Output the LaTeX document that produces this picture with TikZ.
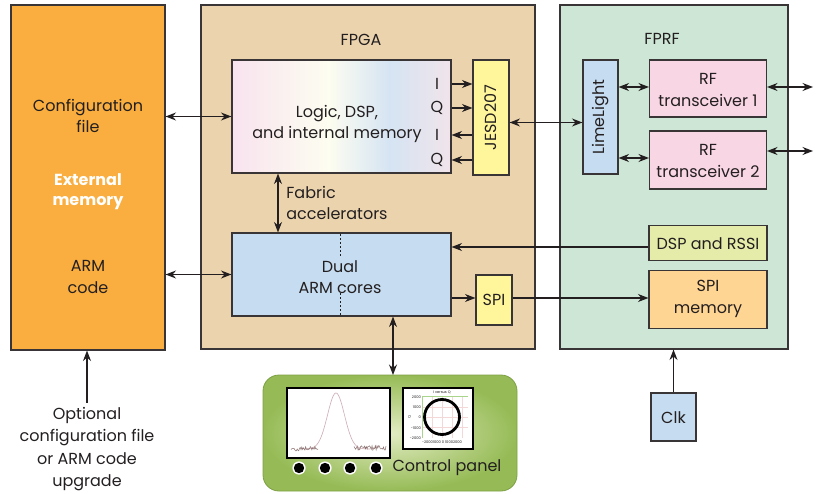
\documentclass[tikz,border=0pt]{standalone}
\usepackage{fontspec}
\setmainfont{Poppins}
\usetikzlibrary{arrows.meta,calc}

\definecolor{ink}{HTML}{231F20}
\definecolor{extorange}{HTML}{F9AE3F}
\definecolor{fpgatan}{HTML}{EBD3AD}
\definecolor{fprfgreen}{HTML}{CDE6D5}
\definecolor{jesdyellow}{HTML}{FFF59B}
\definecolor{armblue}{HTML}{C6DCF0}
\definecolor{rfpink}{HTML}{F9D6E4}
\definecolor{dspgreen}{HTML}{E5ECA9}
\definecolor{memorange}{HTML}{FFD593}
\definecolor{lpink}{HTML}{F8E3EF}
\definecolor{lcream}{HTML}{FDFDF0}
\definecolor{lblue}{HTML}{D5E4F3}
\definecolor{lrose}{HTML}{F1E4EA}
\definecolor{panelin}{HTML}{E2ECC3}
\definecolor{panelout}{HTML}{96BB56}
\definecolor{paneledge}{HTML}{7DA044}
\definecolor{gridpink}{HTML}{F4D8D8}
\definecolor{axisgreen}{HTML}{A8D58A}
\definecolor{traceline}{HTML}{8A6E6E}

% left-to-right tint of the logic block
\pgfdeclarehorizontalshading{logicshade}{100bp}{%
  color(0bp)=(lpink); color(25bp)=(lpink); color(47bp)=(lcream);
  color(61bp)=(lblue); color(75bp)=(lrose); color(100bp)=(lrose)}

\tikzset{
  blk/.style={draw=ink!90, line width=1.1pt, inner sep=0pt},
  txt/.style={text=ink, font=\fontsize{16}{21.5}\selectfont, align=center, inner sep=1pt},
  small/.style={text=ink, font=\fontsize{16}{21.5}\selectfont, inner sep=0pt},
  tiny/.style={text=ink, font=\fontsize{3.6}{4}\selectfont, inner sep=0pt},
  tip/.tip={Stealth[length=10.5pt,width=8pt,inset=3.5pt]},
  arr/.style={draw=ink, line width=1.2pt, -tip},
  dbl/.style={draw=ink, line width=1.2pt, tip-tip},
  screen/.style={draw=black, line width=1.1pt, fill=white, inner sep=0pt},
}

\begin{document}
\begin{tikzpicture}[x=1pt,y=-1pt]
\useasboundingbox (0,0) rectangle (821,494);

% ---- outer blocks ----
\node[blk, fill=extorange, minimum width=154pt, minimum height=345pt] (ext) at (88,177.5) {};
\node[blk, fill=fpgatan, minimum width=334pt, minimum height=344pt] (fpga) at (368,177) {};
\node[blk, fill=fprfgreen, minimum width=228pt, minimum height=344pt] (fprf) at (674,177) {};

\node[txt] (cfg) at (88,116) {Configuration\\file};
\node[txt, text=white, font=\fontsize{16}{20}\selectfont\bfseries] (extlbl) at (88,192) {External\\memory};
\node[txt] (armcode) at (88,277) {ARM\\code};

\node[small] (fpgalbl) at (361,40) {FPGA};
\node[small] (fprflbl) at (662,39) {FPRF};

% ---- FPGA internals ----
\shade[shading=logicshade] (232,60) rectangle (451,173);
\node[blk, minimum width=219pt, minimum height=113pt] (logic) at (341.5,116.5) {};
\node[txt] (logiclbl) at (337,124) {Logic, DSP,\\and internal memory};

\node[small] (lI1) at (437,84) {I};
\node[small] (lQ1) at (437,108) {Q};
\node[small] (lI2) at (437,135) {I};
\node[small] (lQ2) at (437,160) {Q};

\node[blk, fill=jesdyellow, minimum width=36pt, minimum height=115pt] (jesd) at (491,117.5) {};
\node[small, rotate=90] (jesdlbl) at (491,117.5) {JESD207};

\node[blk, fill=armblue, minimum width=219pt, minimum height=83pt] (arm) at (341.5,274.5) {};
\draw[ink, line width=1pt, dash pattern=on 2pt off 2pt] (340,234) -- (340,256);
\draw[ink, line width=1pt, dash pattern=on 2pt off 2pt] (340,293) -- (340,316);
\node[txt] (armlbl) at (340,277) {Dual\\ARM cores};

\node[txt, align=left] (fablbl) at (337,203) {Fabric\\accelerators};

\node[blk, fill=jesdyellow, minimum width=36pt, minimum height=50pt, text=ink, font=\fontsize{16}{20}\selectfont] (spi) at (494,300) {SPI};

% ---- FPRF internals ----
\node[blk, fill=armblue, minimum width=35pt, minimum height=114pt] (lime) at (600.5,117) {};
\node[small, rotate=90] (limelbl) at (600.5,117) {LimeLight};

\node[blk, fill=rfpink, minimum width=117pt, minimum height=57pt] (rf1) at (708,88.5) {};
\node[txt] (rf1lbl) at (708,90) {RF\\transceiver 1};
\node[blk, fill=rfpink, minimum width=117pt, minimum height=58pt] (rf2) at (708,160) {};
\node[txt] (rf2lbl) at (708,161) {RF\\transceiver 2};

\node[blk, fill=dspgreen, minimum width=118pt, minimum height=35pt] (dsp) at (708,243) {};
\node[small] (dsplbl) at (708,244) {DSP and RSSI};
\node[blk, fill=memorange, minimum width=118pt, minimum height=58pt] (spimem) at (708,299.5) {};
\node[txt] (spimemlbl) at (708,299) {SPI\\memory};

\node[blk, fill=armblue, minimum width=45pt, minimum height=48pt] (clk) at (673.5,417) {};
\node[small] (clklbl) at (673.5,418) {Clk};

% ---- control panel ----
\shade[inner color=panelin, outer color=panelout, rounded corners=16pt, draw=paneledge, line width=0.8pt]
  (263,375) rectangle (517,491);
\coordinate (panel) at (390,375);

\node[screen, minimum width=103pt, minimum height=70pt] (scrA) at (338.5,423) {};
\begin{scope}
  \clip (289,389) rectangle (389,457);
  \draw[color=rfpink!60!traceline, line width=0.6pt] plot[domain=304:370, samples=90]
    (\x, {449 - 56*exp(-((\x-336)/8.5)^2/2)});
  \pgfmathsetseed{11}
  \draw[traceline, line width=0.5pt] plot[domain=291:318, samples=36] (\x, {449.5 - 0.06*(\x-291) + 2.2*rand});
  \draw[traceline, line width=0.5pt] plot[domain=354:386, samples=40] (\x, {448 + 2.4*rand});
\end{scope}

\node[screen, minimum width=70pt, minimum height=61pt] (scrB) at (438,418.5) {};
\foreach \gx in {432,442,452,462} \draw[gridpink, line width=0.4pt] (\gx,396) -- (\gx,438);
\foreach \gy in {407,417,427} \draw[gridpink, line width=0.4pt] (422,\gy) -- (468,\gy);
\draw[axisgreen, line width=0.6pt] (468,396) -- (422,396) -- (422,438);
\draw[black, line width=2.8pt] (442,417) circle (17.5);
\node[tiny] (iq) at (442,392.5) {I versus Q};
\node[tiny, anchor=east] at (421,397) {2000};
\node[tiny, anchor=east] at (421,407) {1000};
\node[tiny, anchor=east] at (421,417) {0};
\node[tiny, anchor=east] at (421,428) {-1000};
\node[tiny, anchor=east] at (421,438) {-2000};
\node[tiny, rotate=90] at (409.5,417) {Q};
\node[tiny] at (442,442.5) {-20001000 0 10002000};

\foreach \dx in {299,325,350,376} {
  \fill[white] (\dx,468) circle (6.6);
  \fill[black] (\dx,468) circle (5.2);
}
\node[small] (cplbl) at (447,468) {Control panel};

% ---- note under external memory ----
\node[txt, font=\fontsize{16}{22.5}\selectfont] (opt) at (87,449) {Optional\\configuration file\\or ARM code\\upgrade};

% ---- connectors ----
\draw[dbl] (logic.west -| ext.east) -- (logic.west);
\draw[dbl] (arm.west -| ext.east) -- (arm.west);
\draw[dbl] ([xshift=-63.5pt]logic.south) -- ([xshift=-63.5pt]arm.north);

\draw[arr] (logic.east |- lI1) -- (jesd.west |- lI1);
\draw[arr] (logic.east |- lQ1) -- (jesd.west |- lQ1);
\draw[arr] (jesd.west |- lI2) -- (logic.east |- lI2);
\draw[arr] (jesd.west |- lQ2) -- (logic.east |- lQ2);

\draw[dbl] ([yshift=-5pt]jesd.east) -- ([yshift=-5pt]jesd.east -| lime.west);
\draw[dbl] ([yshift=1.5pt]rf1.west -| lime.east) -- ([yshift=1.5pt]rf1.west);
\draw[dbl] ([yshift=2pt]rf2.west -| lime.east) -- ([yshift=2pt]rf2.west);
\coordinate (ant1) at (813,87);
\coordinate (ant2) at (813,151);
\draw[dbl] (rf1.east |- ant1) -- (ant1);
\draw[dbl] (rf2.east |- ant2) -- (ant2);

\draw[arr] ([yshift=-4pt]dsp.west) -- ([yshift=-4pt]dsp.west -| arm.east);
\draw[arr] ([yshift=2pt]spi.west -| arm.east) -- ([yshift=2pt]spi.west);
\draw[arr] ([yshift=2pt]spi.east) -- ([yshift=2pt]spi.east -| spimem.west);

\draw[dbl] ([xshift=51.5pt]arm.south) -- ([xshift=51.5pt]arm.south |- panel);
\draw[arr] (clk.north) -- (clk.north |- fprf.south);
\draw[arr] ([yshift=3pt]opt.north) -- (opt.north |- ext.south);

\end{tikzpicture}
\end{document}
